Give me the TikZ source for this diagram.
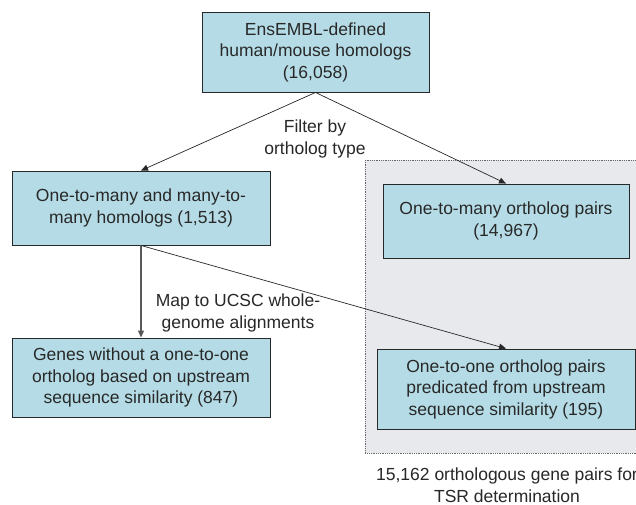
\documentclass[tikz,border=0pt]{standalone}
\usepackage{fontspec}
\setmainfont{Liberation Sans}
\usetikzlibrary{arrows.meta, positioning}

\definecolor{boxblue}{RGB}{181,220,230}
\definecolor{regiongray}{RGB}{232,233,237}
\definecolor{inkgray}{RGB}{40,40,40}

\begin{document}
\begin{tikzpicture}[
    x=1pt, y=-1pt,
    every node/.style = {text=inkgray, font=\fontsize{17.5}{21.5}\selectfont},
    stage/.style = {rectangle, draw=inkgray, fill=boxblue, line width=0.9pt,
                    align=center, inner sep=3pt},
    label/.style = {align=center, inner sep=0pt},
    region/.style = {fill=regiongray, draw=gray!80!black, densely dotted, line width=0.8pt},
    arr/.style = {-{Triangle[length=7pt, width=6pt]}, line width=0.7pt, inkgray},
    vert/.style = {arr, line width=1.1pt, gray!70!black},
]

\clip (0,0) rectangle (636,504);
\fill[white] (0,0) rectangle (636,504);

%% ---- Region of pairs kept ----
\draw[region] (365,160) rectangle (660,453);

%% ---- Boxes ----
\node[stage, minimum width=227pt, minimum height=80pt] (homologs) at (315.5, 52)
    {EnsEMBL-defined\\human/mouse homologs\\(16,058)};
\node[stage, minimum width=258pt, minimum height=74pt] (manytomany) at (141, 208)
    {One-to-many and many-to-\\many homologs (1,513)};
\node[stage, minimum width=246pt, minimum height=74pt] (onetomany) at (506, 221)
    {One-to-many ortholog pairs\\(14,967)};
\node[stage, minimum width=258pt, minimum height=79pt] (noortholog) at (141, 377.5)
    {Genes without a one-to-one\\ortholog based on upstream\\sequence similarity (847)};
\node[stage, minimum width=258pt, minimum height=80pt] (onetoone) at (506, 389)
    {One-to-one ortholog pairs\\predicated from upstream\\sequence similarity (195)};

%% ---- Labels ----
\node[label] (filter) at (315, 139) {Filter by\\ortholog type};
\node[label] (map) at (238, 313) {Map to UCSC whole-\\genome alignments};
\node[label] (caption) at (507, 485) {15,162 orthologous gene pairs for\\TSR determination};

%% ---- Arrows ----
\draw[arr] (homologs.south) -- (manytomany.north);
\draw[arr] (homologs.south) -- (onetomany.north);
\draw[vert] (manytomany.south) -- (noortholog.north);
\draw[arr] (manytomany.south) -- (onetoone.north);

\end{tikzpicture}
\end{document}
